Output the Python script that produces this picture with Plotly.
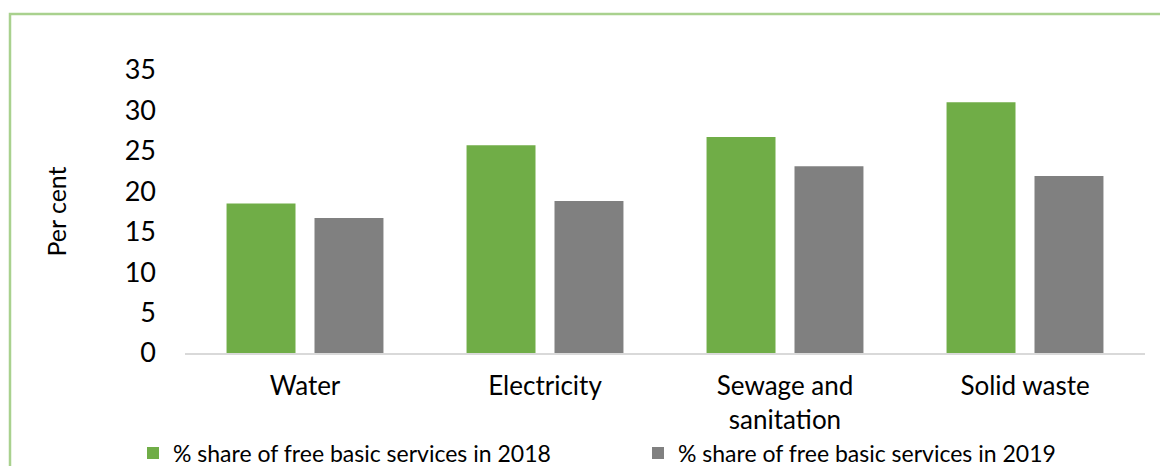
import plotly.graph_objects as go

categories = ["Water", "Electricity", "Sewage and<br>sanitation", "Solid waste"]
series_2018 = [18.5, 25.7, 26.7, 31.0]
series_2019 = [16.7, 18.8, 23.1, 21.9]
name_2018 = "% share of free basic services in 2018"
name_2019 = "% share of free basic services in 2019"
y_ticks = [0, 5, 10, 15, 20, 25, 30, 35]

FONT = "Lato"
W, H = 1160, 458
PL, PR, PT, PB = 177, 23, 62, 113
PW, PH = W - PL - PR, H - PT - PB

fig = go.Figure()
fig.add_trace(go.Bar(x=categories, y=series_2018, name=name_2018,
                     marker=dict(color="#70AD47", line=dict(width=0))))
fig.add_trace(go.Bar(x=categories, y=series_2019, name=name_2019,
                     marker=dict(color="#808080", line=dict(width=0))))

fig.update_layout(
    width=W, height=H,
    margin=dict(l=PL, r=PR, t=PT, b=PB, autoexpand=False),
    paper_bgcolor="white", plot_bgcolor="white",
    barmode="group", bargap=0.267, bargroupgap=0.216,
    font=dict(family=FONT, color="#000000"),
    showlegend=True,
    legend=dict(orientation="h", xref="paper", yref="paper",
                x=(125 - PL) / PW, xanchor="left", y=(PH + PT - 445) / PH, yanchor="middle",
                font=dict(size=23, family=FONT), entrywidth=460, entrywidthmode="pixels",
                itemwidth=30, tracegroupgap=0),
    xaxis=dict(showline=True, linecolor="#D9D9D9", linewidth=2, ticks="",
               automargin=False, ticklabelstandoff=9,
               tickfont=dict(size=26, family=FONT), showgrid=False),
    yaxis=dict(range=[0, 35], tickvals=y_ticks, showgrid=False, showline=False,
               zeroline=False, ticks="", automargin=False, ticklabelstandoff=28,
               tickfont=dict(size=27, family=FONT),
               title=dict(text="Per cent", font=dict(size=25, family=FONT), standoff=50)),
    shapes=[dict(type="rect", xref="paper", yref="paper",
                 x0=(2 - PL) / PW, x1=1.2, y0=-0.6, y1=(PH + PT - 6) / PH,
                 line=dict(color="#A9D18E", width=2.5), fillcolor="rgba(0,0,0,0)", layer="below")],
)

fig.write_html("out.html")
